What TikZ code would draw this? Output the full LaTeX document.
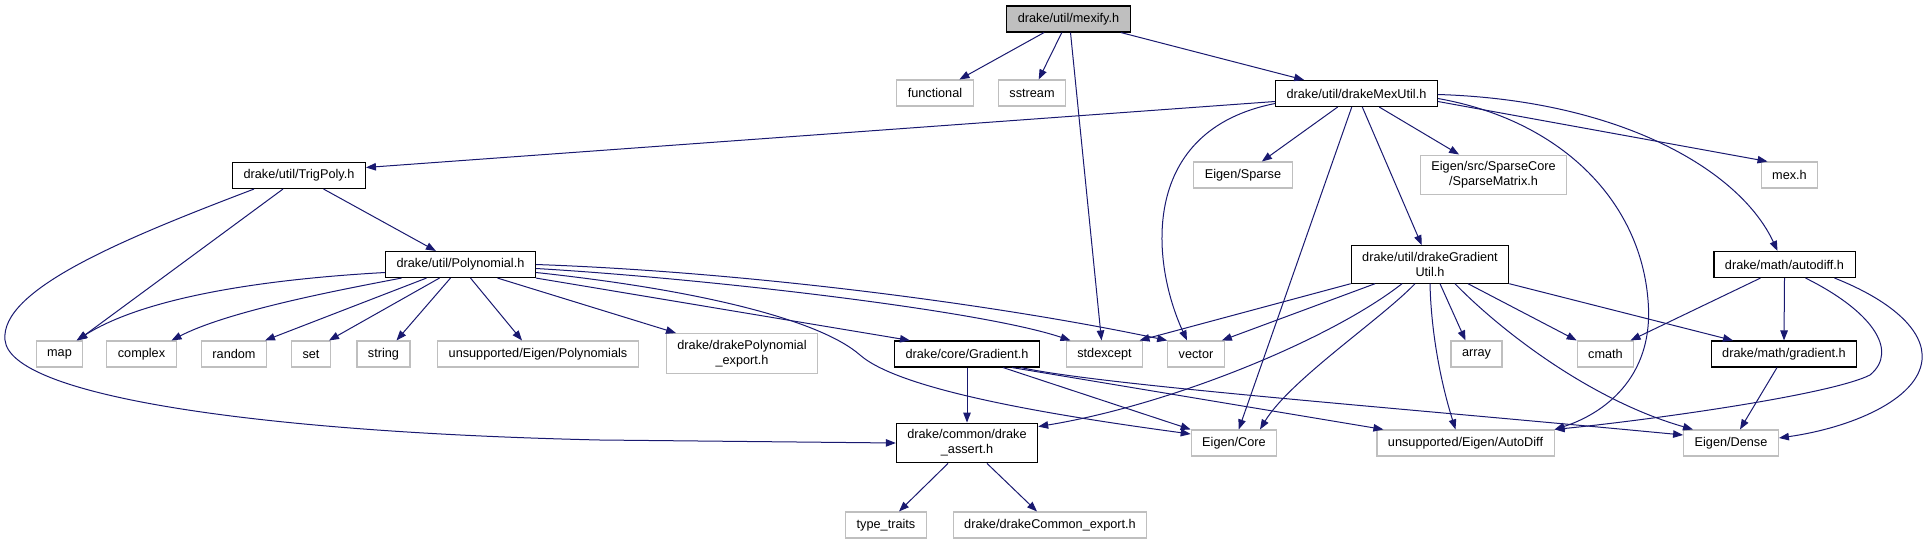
\documentclass[tikz,border=0pt]{standalone}
\usepackage{fontspec}
\setmainfont{Liberation Sans}
\usetikzlibrary{arrows.meta}
\definecolor{edgeblue}{HTML}{191970}
\definecolor{boxgrey}{HTML}{BFBFBF}
\begin{document}
\begin{tikzpicture}[x=1pt, y=-1pt, >={Triangle[length=10pt,width=7.5pt]},
  hfile/.style={draw=black, line width=1.1pt, fill=white, font=\fontsize{12.7}{15}\selectfont,
    align=center, inner xsep=11pt, inner ysep=6.5pt, minimum height=26pt},
  sysfile/.style={hfile, draw=boxgrey},
  incl/.style={->, draw=edgeblue, line width=1pt}]
\useasboundingbox (0,0) rectangle (1928,544);
% row 1
\node[hfile, fill=boxgrey] (mexify) at (1068.5,19) {drake/util/mexify.h};
% row 2
\node[sysfile] (functional) at (935,93) {functional};
\node[sysfile] (sstream) at (1032,93) {sstream};
\node[hfile] (mexutil) at (1356.5,93.5) {drake/util/drakeMexUtil.h};
% row 3
\node[hfile] (trigpoly) at (299,175.5) {drake/util/TrigPoly.h};
\node[sysfile] (sparse) at (1243,175) {Eigen/Sparse};
\node[sysfile] (sparsematrix) at (1493.5,175) {Eigen/src/SparseCore\\/SparseMatrix.h};
\node[sysfile] (mexh) at (1789.5,175) {mex.h};
% row 4
\node[hfile] (polynomial) at (460.5,264.5) {drake/util/Polynomial.h};
\node[hfile] (gradutil) at (1430,264.5) {drake/util/drakeGradient\\Util.h};
\node[hfile] (autodiff) at (1784.5,264.5) {drake/math/autodiff.h};
% row 5
\node[sysfile] (map) at (59.5,354) {map};
\node[sysfile] (complex) at (141.5,354) {complex};
\node[sysfile] (random) at (234,354) {random};
\node[sysfile] (set) at (311,354) {set};
\node[sysfile] (string) at (383.5,354) {string};
\node[sysfile] (polys) at (538,354) {unsupported/Eigen/Polynomials};
\node[sysfile] (polyexport) at (742,353.5) {drake/drakePolynomial\\\_export.h};
\node[hfile] (coregrad) at (967,354) {drake/core/Gradient.h};
\node[sysfile] (stdexcept) at (1104.5,354) {stdexcept};
\node[sysfile] (vector) at (1196,354) {vector};
\node[sysfile] (array) at (1476.5,354) {array};
\node[sysfile] (cmath) at (1605.5,354) {cmath};
\node[hfile] (mathgrad) at (1784,354) {drake/math/gradient.h};
% row 6
\node[hfile] (assert) at (967,443) {drake/common/drake\\\_assert.h};
\node[sysfile] (eigencore) at (1234,443) {Eigen/Core};
\node[sysfile] (autodiffeig) at (1465.5,443) {unsupported/Eigen/AutoDiff};
\node[sysfile] (dense) at (1731,443) {Eigen/Dense};
% row 7
\node[sysfile] (typetraits) at (886,525) {type\_traits};
\node[sysfile] (commonexport) at (1050,525) {drake/drakeCommon\_export.h};

% mexify.h
\draw[incl] (mexify) -- (functional);
\draw[incl] (mexify) -- (sstream);
\draw[incl] ([xshift=2pt]mexify.south) -- ([xshift=-3pt]stdexcept.north);
\draw[incl] (mexify) -- (mexutil);
% drakeMexUtil.h
\draw[incl] ([yshift=-8pt]mexutil.west) -- ([yshift=8pt]trigpoly.east);
\draw[incl] (mexutil) -- (sparse);
\draw[incl] (mexutil) -- (sparsematrix);
\draw[incl] (mexutil) -- (gradutil);
\draw[incl] (mexutil) -- (eigencore);
\draw[incl] ([yshift=-10pt]mexutil.west) .. controls (1140,130) and (1150,260) .. ([xshift=-9pt]vector.north);
\draw[incl] ([yshift=-8pt]mexutil.east) -- ([xshift=-22pt]mexh.north);
\draw[incl] ([yshift=-1pt]mexutil.east) .. controls (1620,100) and (1740,170) .. ([xshift=-7pt]autodiff.north);
\draw[incl] ([yshift=-5pt]mexutil.east) .. controls (1560,120) and (1640,200) .. (1648,300)
  .. controls (1655,380) and (1600,415) .. (autodiffeig.north east);
% TrigPoly.h
\draw[incl] (trigpoly) -- (polynomial);
\draw[incl] ([xshift=-16pt]trigpoly.south) -- ([xshift=18pt]map.north);
\draw[incl] ([xshift=-45pt]trigpoly.south) .. controls (120,240) and (0,290) .. (5,340)
  .. controls (10,395) and (250,432) .. (600,440) -- (assert.west);
% Polynomial.h
\draw[incl] ([yshift=-8pt]polynomial.west) .. controls (250,280) and (140,300) .. ([xshift=17pt]map.north);
\draw[incl] ([xshift=-59pt]polynomial.south) .. controls (350,288) and (230,310) .. ([xshift=30pt]complex.north);
\draw[incl] ([xshift=-34pt]polynomial.south) -- ([xshift=31pt]random.north);
\draw[incl] ([xshift=-21pt]polynomial.south) -- ([xshift=18pt]set.north);
\draw[incl] ([xshift=-10pt]polynomial.south) -- ([xshift=13pt]string.north);
\draw[incl] ([xshift=10pt]polynomial.south) -- ([xshift=-16pt]polys.north);
\draw[incl] ([xshift=37pt]polynomial.south) -- ([xshift=-66pt]polyexport.north);
\draw[incl] (polynomial.east) .. controls (750,272) and (1000,305) .. (vector.north west);
\draw[incl] ([yshift=-4pt]polynomial.east) .. controls (700,278) and (980,310) .. ([xshift=-34pt]stdexcept.north);
\draw[incl] ([yshift=-8pt]polynomial.east) .. controls (700,290) and (820,320) .. (860,355)
  .. controls (900,390) and (1050,415) .. ([yshift=9pt]eigencore.west);
\draw[incl] (polynomial.south east) -- ([xshift=-57pt]coregrad.north);
% drakeGradientUtil.h
\draw[incl] (gradutil.south west) -- ([xshift=35pt]stdexcept.north);
\draw[incl] ([xshift=-55pt]gradutil.south) -- ([xshift=-3pt]vector.north east);
\draw[incl] ([xshift=-28pt]gradutil.south) .. controls (1330,340) and (1170,405) .. ([yshift=-4pt]assert.north east);
\draw[incl] ([xshift=-15pt]gradutil.south) .. controls (1380,320) and (1290,380) .. ([xshift=26pt]eigencore.north);
\draw[incl] (gradutil.south) .. controls (1431,330) and (1440,380) .. ([xshift=-10pt]autodiffeig.north);
\draw[incl] ([xshift=10pt]gradutil.south) -- ([xshift=-11pt]array.north);
\draw[incl] ([xshift=25pt]gradutil.south) .. controls (1500,330) and (1590,400) .. ([xshift=-38pt]dense.north);
\draw[incl] ([xshift=38pt]gradutil.south) -- (cmath.north west);
\draw[incl] (gradutil.south east) -- ([xshift=-51pt]mathgrad.north);
% Gradient.h
\draw[incl] (coregrad) -- (assert);
\draw[incl] ([xshift=36pt]coregrad.south) -- (eigencore.north west);
\draw[incl] ([xshift=45pt]coregrad.south) -- ([xshift=7pt]autodiffeig.north west);
\draw[incl] ([xshift=54pt]coregrad.south) .. controls (1100,385) and (1400,408) .. ([yshift=8pt]dense.west);
% drake_assert.h
\draw[incl] ([xshift=-19pt]assert.south) -- ([xshift=13pt]typetraits.north);
\draw[incl] ([xshift=20pt]assert.south) -- ([xshift=-13pt]commonexport.north);
% autodiff.h
\draw[incl] ([xshift=-24pt]autodiff.south) -- ([xshift=25pt]cmath.north);
\draw[incl] (autodiff.south) -- (mathgrad.north);
\draw[incl] ([xshift=21pt]autodiff.south) .. controls (1870,310) and (1900,350) .. (1870,375)
  .. controls (1830,395) and (1650,420) .. (autodiffeig.north east);
\draw[incl] ([xshift=50pt]autodiff.south) .. controls (1890,300) and (1925,330) .. (1922,360)
  .. controls (1918,400) and (1850,428) .. ([yshift=5pt]dense.east);
% math/gradient.h
\draw[incl] ([xshift=-7pt]mathgrad.south) -- ([xshift=9pt]dense.north);
\end{tikzpicture}
\end{document}
